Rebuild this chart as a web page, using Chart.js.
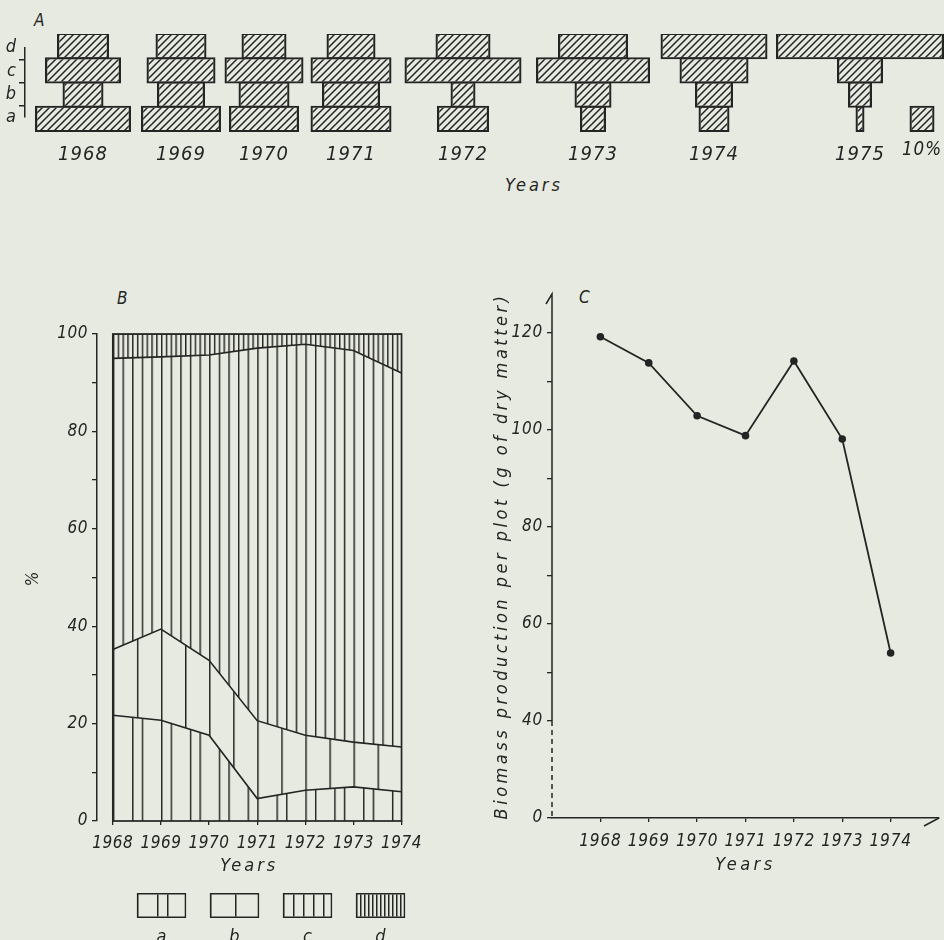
<!DOCTYPE html>
<html><head><meta charset="utf-8"><title>Figure</title>
<script src="https://cdn.jsdelivr.net/npm/chart.js@4.4.1/dist/chart.umd.min.js"></script>
<style>
html,body{margin:0;padding:0;}
body{width:944px;height:940px;overflow:hidden;position:relative;background:#e7eae0;}
canvas{position:absolute;}
.t{position:absolute;font-family:'Liberation Sans Narrow','DejaVu Sans Condensed','Liberation Sans',sans-serif;font-style:italic;color:#262626;white-space:nowrap;line-height:1;}
</style></head><body>
<div class="t" style="left:34px;top:12px;font-size:17px;">A</div>
<div class="t" style="left:505px;top:176px;font-size:18px;letter-spacing:3px;">Years</div>
<div class="t" style="left:117px;top:290px;font-size:17px;">B</div>
<div class="t" style="left:579px;top:289px;font-size:17px;">C</div>
<script>
// ---------- Panel A: age-class structure (% of individuals) ----------
const yearsA = ['1968','1969','1970','1971','1972','1973','1974','1975'];
const ageClasses = ['d','c','b','a'];            // drawn top to bottom
const ageA = [38.4, 32.0, 28.0, 32.4, 20.8, 10.4, 12.4, 3.6];
const ageB = [16.4, 19.2, 20.4, 23.2, 10.0, 14.8, 15.2, 9.6];
const ageC = [30.4, 27.6, 31.6, 32.4, 46.8, 45.6, 27.6, 18.4];
const ageD = [20.8, 20.4, 18.0, 19.6, 22.0, 28.0, 42.8, 67.2];
const keyValue = 10;
const keyLabel = '10%';

// ---------- Panel B: biomass share of classes (%) ----------
const yearsB = [1968, 1969, 1970, 1971, 1972, 1973, 1974];
const shareA = [21.7, 20.7, 17.6, 4.6, 6.3, 7.0, 6.0];
const shareB = [13.5, 18.7, 15.4, 16.0, 11.3, 9.2, 9.2];
const shareC = [59.8, 55.9, 62.7, 76.5, 80.3, 80.4, 76.8];
const shareD = [5.0, 4.7, 4.3, 2.9, 2.1, 3.4, 8.0];
const pctTicks = [0, 10, 20, 30, 40, 50, 60, 70, 80, 90, 100];
const pctTickLabels = ['0', '', '20', '', '40', '', '60', '', '80', '', '100'];
const legendLabels = ['a', 'b', 'c', 'd'];

// ---------- Panel C: biomass production per plot ----------
const yearsC = [1968, 1969, 1970, 1971, 1972, 1973, 1974];
const biomass = [119.2, 113.8, 102.9, 98.8, 114.2, 98.1, 54.0];
const biomassTicks = [20, 40, 50, 60, 70, 80, 90, 100, 110, 120];
const biomassTickLabels = ['0', '40', '', '60', '', '80', '', '100', '', '120'];
const axisBreakLow = 20;   // broken axis: this level is labelled 0
const axisBreakHigh = 40;

// ---------- styling / layout ----------
const INK = '#242424';
const FAMILY = "'Liberation Sans Narrow','DejaVu Sans Condensed','Liberation Sans',sans-serif";
const f = (size) => ({family: FAMILY, size: size, style: 'italic'});
Chart.defaults.color = INK;
Chart.defaults.font.family = FAMILY;
Chart.defaults.animation = false;
Chart.defaults.responsive = false;
Chart.defaults.plugins.legend.display = false;
Chart.defaults.plugins.tooltip.enabled = false;

function mk(left, top, w, h) {
  const c = document.createElement('canvas');
  c.width = w; c.height = h;
  c.style.left = left + 'px'; c.style.top = top + 'px';
  c.style.width = w + 'px'; c.style.height = h + 'px';
  document.body.appendChild(c);
  return c;
}
function spacing(titleLS, tickLS) {
  return {
    id: 'spacing',
    beforeUpdate(c) { c.ctx.letterSpacing = tickLS; },
    beforeDraw(c) { c.ctx.letterSpacing = titleLS; },
    beforeDatasetsDraw(c) { c.ctx.letterSpacing = tickLS; }
  };
}
function hatch(ctx) {
  const n = 7;
  const t = document.createElement('canvas'); t.width = n; t.height = n;
  const g = t.getContext('2d');
  g.strokeStyle = INK; g.lineWidth = 1.5;
  g.beginPath();
  g.moveTo(-1, n + 1); g.lineTo(n + 1, -1);
  g.moveTo(-1, 1); g.lineTo(1, -1);
  g.moveTo(n - 1, n + 1); g.lineTo(n + 1, n - 1);
  g.stroke();
  return ctx.createPattern(t, 'repeat');
}
function vlines(ctx, period, xs) {
  const t = document.createElement('canvas'); t.width = period; t.height = 4;
  const g = t.getContext('2d');
  g.fillStyle = INK;
  xs.forEach(x => g.fillRect(x, 0, 1.5, 4));
  return ctx.createPattern(t, 'repeat');
}

// ---------- Panel A ----------
const A_TOP = 34, A_ROWS_H = 97, A_AXIS_H = 36, PX_PER_PCT = 2.5, A_W = 200;
const A_CENTERS = [83, 180.5, 264, 350.5, 462.5, 593, 714, 860];
const KEY_CENTER = 921.5, KEY_W = 40;

// row labels with bracket
(function () {
  const cv = mk(0, A_TOP, 40, A_ROWS_H);
  new Chart(cv, {
    type: 'bar',
    data: {labels: ageClasses, datasets: []},
    options: {
      layout: {padding: 0},
      scales: {
        x: {display: false},
        y: {type: 'category', labels: ageClasses, position: 'left',
            afterFit: s => { s.width = 25; },
            ticks: {font: f(18), color: INK, padding: 3, autoSkip: false},
            grid: {display: true, offset: true, drawOnChartArea: false, tickLength: 6, color: INK, lineWidth: 1.5},
            border: {display: true, color: INK, width: 1.5}}
      }
    },
    plugins: [spacing('0px', '0px')]
  });
})();

function ageChart(center, width, vals, label, padBottom) {
  const cv = mk(center - width / 2, A_TOP, width, A_ROWS_H + A_AXIS_H);
  const half = width / 2 / PX_PER_PCT;
  const ctx = cv.getContext('2d');
  new Chart(cv, {
    type: 'bar',
    data: {labels: ageClasses, datasets: [{
      data: vals.map(v => v == null ? null : [-v / 2, v / 2]),
      backgroundColor: hatch(ctx), borderColor: INK, borderWidth: 2.2, borderSkipped: false,
      barPercentage: 1 + 2.2 / (A_ROWS_H / 4), categoryPercentage: 1, clip: false
    }]},
    options: {
      indexAxis: 'y',
      layout: {padding: 0},
      scales: {
        x: {type: 'linear', min: -half, max: half,
            ticks: {display: false}, grid: {display: false}, border: {display: false},
            title: {display: true, text: label, font: f(20), color: INK, padding: {top: 0, bottom: padBottom}},
            afterFit: s => { s.height = A_AXIS_H; }},
        y: {display: false}
      }
    },
    plugins: [spacing('1px', '0px')]
  });
}
yearsA.forEach((yr, i) => {
  ageChart(A_CENTERS[i], A_W, [ageD[i], ageC[i], ageB[i], ageA[i]], yr, 0);
});
ageChart(KEY_CENTER, KEY_W, [null, null, null, keyValue], keyLabel, 5);

// ---------- Panel B ----------
(function () {
  const cv = mk(0, 290, 430, 591);
  const ctx = cv.getContext('2d');
  const pats = [vlines(ctx, 30, [0, 20]), vlines(ctx, 25, [0]), vlines(ctx, 10, [0]), vlines(ctx, 5, [0])];
  const series = [shareA, shareB, shareC, shareD];
  const pts = arr => yearsB.map((x, i) => ({x: x, y: arr[i]}));
  const plotX0 = 1968 - 16 / (292 / 6);   // gap between y axis and plotted block
  new Chart(cv, {
    type: 'line',
    data: {datasets: series.map((s, i) => ({
      label: legendLabels[i], data: pts(s),
      fill: i === 0 ? 'origin' : '-1',
      backgroundColor: pats[i], borderColor: INK, borderWidth: 1.6,
      pointRadius: 0, tension: 0
    }))},
    options: {
      layout: {padding: {top: 44, right: 25, left: 0, bottom: 0}},
      scales: {
        x: {type: 'linear', min: plotX0, max: yearsB[yearsB.length - 1],
            afterBuildTicks: s => { s.ticks = yearsB.map(v => ({value: v})); },
            ticks: {callback: v => String(v), font: f(17), color: INK, padding: 8, maxRotation: 0, autoSkip: false, z: 1},
            grid: {display: true, drawOnChartArea: false, tickLength: 4, color: INK, lineWidth: 1.3},
            border: {display: false},
            title: {display: true, text: 'Years', font: f(18), color: INK, padding: {top: 0, bottom: 4}},
            afterFit: s => { s.height = 60; }},
        y: {type: 'linear', stacked: true, min: 0, max: 100,
            afterBuildTicks: s => { s.ticks = pctTicks.map(v => ({value: v})); },
            ticks: {callback: v => pctTickLabels[pctTicks.indexOf(v)], font: f(17), color: INK, padding: 4, z: 1},
            grid: {display: true, drawOnChartArea: false, tickLength: 5, color: INK, lineWidth: 1.3},
            border: {display: true, color: INK, width: 1.5},
            title: {display: true, text: '%', font: f(17), color: INK, padding: {top: 23, bottom: 0}},
            afterFit: s => { s.width = 97; }}
      }
    },
    plugins: [spacing('3px', '0.5px'), {
      id: 'frameB',
      beforeDraw(c) {
        const x = c.scales.x;
        const l = x.getPixelForValue(yearsB[0]);
        const r = x.getPixelForValue(yearsB[yearsB.length - 1]);
        const sc = (r - l) / 300;
        pats.forEach(p => p.setTransform(new DOMMatrix([sc, 0, 0, 1, l, 0])));
      },
      afterDatasetsDraw(c) {
        const {ctx, scales: {x, y}} = c;
        const l = x.getPixelForValue(yearsB[0]), r = x.getPixelForValue(yearsB[yearsB.length - 1]);
        const t = y.getPixelForValue(100), b = y.getPixelForValue(0);
        ctx.save(); ctx.strokeStyle = INK; ctx.lineWidth = 1.7;
        ctx.strokeRect(l, t, r - l, b - t); ctx.restore();
      }
    }]
  });
})();

// legend keys for B
(function () {
  const cv = mk(125, 893, 292, 47);
  const ctx = cv.getContext('2d');
  const pats = [vlines(ctx, 30, [0, 20]), vlines(ctx, 25, [0]), vlines(ctx, 10, [0]), vlines(ctx, 4, [0])];
  new Chart(cv, {
    type: 'bar',
    data: {labels: legendLabels, datasets: [{
      data: legendLabels.map(() => 1), backgroundColor: pats, borderColor: INK, borderWidth: 1.6,
      borderSkipped: false, barPercentage: 0.68, categoryPercentage: 1
    }]},
    options: {
      layout: {padding: 0},
      scales: {
        y: {display: false, min: 0, max: 1},
        x: {ticks: {font: f(18), color: INK, padding: 1}, grid: {display: false}, border: {display: false},
            afterFit: s => { s.height = 22; }}
      }
    },
    plugins: [{
      id: 'alignLegend',
      beforeDatasetsDraw(c) {
        c.getDatasetMeta(0).data.forEach((bar, i) => {
          pats[i].setTransform(new DOMMatrix([1, 0, 0, 1, Math.round(bar.x - bar.width / 2), 0]));
        });
      }
    }]
  });
})();

// ---------- Panel C ----------
(function () {
  const cv = mk(440, 270, 504, 610);
  new Chart(cv, {
    type: 'line',
    data: {datasets: [{
      data: yearsC.map((x, i) => ({x: x, y: biomass[i]})),
      borderColor: INK, borderWidth: 1.8, tension: 0, fill: false,
      pointRadius: 3.8, pointBackgroundColor: INK, pointBorderWidth: 0, clip: false
    }]},
    options: {
      layout: {padding: {top: 24, right: 5, left: 0, bottom: 0}},
      scales: {
        x: {type: 'linear', min: 1967, max: 1975,
            afterBuildTicks: s => { s.ticks = yearsC.map(v => ({value: v})); },
            ticks: {callback: v => String(v), font: f(17), color: INK, padding: 9, maxRotation: 0, autoSkip: false, z: 1},
            grid: {display: true, drawOnChartArea: false, tickLength: 4, color: INK, lineWidth: 1.3},
            border: {display: true, color: INK, width: 1.5},
            title: {display: true, text: 'Years', font: f(18), color: INK, padding: {top: 0, bottom: 4}},
            afterFit: s => { s.height = 62; }},
        y: {type: 'linear', min: axisBreakLow, max: 128,
            afterBuildTicks: s => { s.ticks = biomassTicks.map(v => ({value: v})); },
            ticks: {callback: v => biomassTickLabels[biomassTicks.indexOf(v)], font: f(17), color: INK, padding: 4, z: 1},
            grid: {display: true, drawOnChartArea: false, tickLength: 5, color: INK, lineWidth: 1.3},
            border: {display: false},
            title: {display: true, text: 'Biomass production per plot (g of dry matter)', font: f(18), color: INK, padding: {top: 52, bottom: 0}},
            afterFit: s => { s.width = 112; }}
      }
    },
    plugins: [spacing('3.5px', '0.8px'), {
      id: 'axisC',
      afterDraw(c) {
        const {ctx, scales: {y}, chartArea: ca} = c;
        const ax = ca.left, yb = y.getPixelForValue(axisBreakHigh);
        ctx.save(); ctx.strokeStyle = INK; ctx.lineWidth = 1.5;
        ctx.beginPath(); ctx.moveTo(ax, yb); ctx.lineTo(ax, ca.top); ctx.lineTo(ax - 6, ca.top + 10); ctx.stroke();
        ctx.setLineDash([5, 4]);
        ctx.beginPath(); ctx.moveTo(ax, yb); ctx.lineTo(ax, ca.bottom); ctx.stroke();
        ctx.setLineDash([]);
        ctx.beginPath(); ctx.moveTo(ca.right, ca.bottom); ctx.lineTo(ca.right - 15, ca.bottom + 8); ctx.stroke();
        ctx.restore();
      }
    }]
  });
})();
</script>
</body></html>
